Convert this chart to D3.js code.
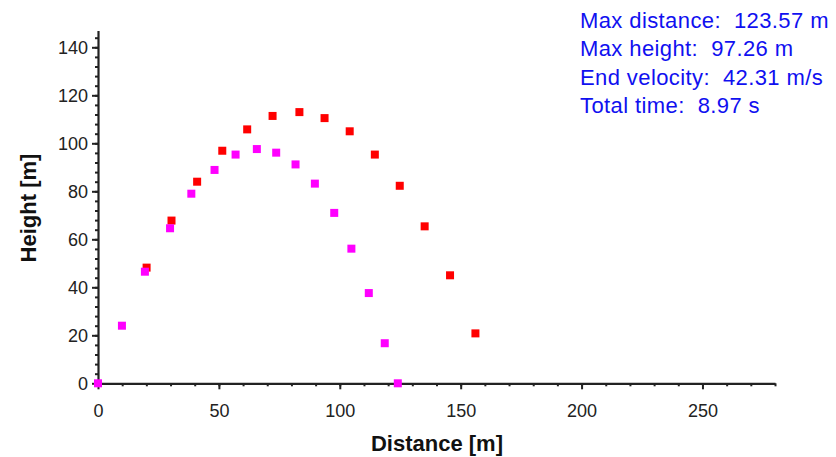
<!DOCTYPE html>
<html>
<head>
<meta charset="utf-8">
<script src="https://cdn.jsdelivr.net/npm/d3@7"></script>
<style>
  body { margin: 0; background: #fff; }
  svg { display: block; }
  .tick text { font-family: "Liberation Sans", Arial, sans-serif; font-size: 18px; fill: #222; }
</style>
</head>
<body>
<div id="chart"></div>
<script>
// first trajectory (red) and second (magenta), distance / height in metres
let redDistance = [20.1, 30.4, 41.0, 51.4, 61.7, 72.2, 83.3, 93.7, 104.1, 114.5, 124.8, 135.1, 145.6, 156.1];
let redHeight   = [48.2, 67.8, 84.0, 96.9, 105.8, 111.4, 113.0, 110.5, 105.0, 95.3, 82.3, 65.4, 45.0, 20.8];
let pinkDistance = [0, 9.9, 19.4, 29.8, 38.6, 48.2, 56.9, 65.7, 73.7, 81.7, 89.7, 97.7, 104.8, 112.0, 118.6, 124.0];
let pinkHeight   = [0, 24.0, 46.5, 64.6, 79.0, 88.9, 95.3, 97.6, 96.1, 91.2, 83.2, 71.0, 56.1, 37.6, 16.7, 0];

let xTicks = [0, 50, 100, 150, 200, 250];
let yTicks = [0, 20, 40, 60, 80, 100, 120, 140];

let infoLines = [
  "Max distance:\u00a0 123.57 m",
  "Max height:\u00a0 97.26 m",
  "End velocity:\u00a0 42.31 m/s",
  "Total time:\u00a0 8.97 s"
];

let width = 836, height = 457;
let margin = {top: 30.5, right: 61, bottom: 73.7, left: 98};

let x = d3.scaleLinear()
    .domain([0, 280])
    .range([margin.left, width - margin.right]);

let y = d3.scaleLinear()
    .domain([0, 147])
    .range([height - margin.bottom, margin.top]);

let svg = d3.select("#chart").append("svg")
    .attr("width", width)
    .attr("height", height);

// minor ticks
svg.append("g")
    .attr("transform", "translate(0," + y(0) + ")")
    .call(d3.axisBottom(x).tickValues(d3.range(0, 281, 10)).tickSize(3).tickSizeOuter(0).tickFormat(""))
    .call(g => g.select(".domain").remove())
    .call(g => g.selectAll("line").attr("stroke", "#222").attr("stroke-width", 2));

svg.append("g")
    .attr("transform", "translate(" + x(0) + ",0)")
    .call(d3.axisLeft(y).tickValues(d3.range(0, 147, 4)).tickSize(3).tickSizeOuter(0).tickFormat(""))
    .call(g => g.select(".domain").remove())
    .call(g => g.selectAll("line").attr("stroke", "#222").attr("stroke-width", 2));

// major axes
svg.append("g")
    .attr("transform", "translate(0," + y(0) + ")")
    .call(d3.axisBottom(x).tickValues(xTicks).tickSize(6).tickSizeOuter(0).tickPadding(15))
    .call(g => g.select(".domain").attr("stroke", "#222").attr("stroke-width", 2.2))
    .call(g => g.selectAll("line").attr("stroke", "#222").attr("stroke-width", 2));

svg.append("g")
    .attr("transform", "translate(" + x(0) + ",0)")
    .call(d3.axisLeft(y).tickValues(yTicks).tickSize(6).tickSizeOuter(0).tickPadding(4))
    .call(g => g.select(".domain").attr("stroke", "#222").attr("stroke-width", 2.2))
    .call(g => g.selectAll("line").attr("stroke", "#222").attr("stroke-width", 2));

// axis titles
svg.append("text")
    .attr("x", 437)
    .attr("y", 451)
    .attr("text-anchor", "middle")
    .style("font-family", "Liberation Sans, Arial, sans-serif")
    .style("font-weight", "bold")
    .style("font-size", "22px")
    .style("fill", "#111")
    .text("Distance [m]");

svg.append("text")
    .attr("transform", "translate(36,208) rotate(-90)")
    .attr("text-anchor", "middle")
    .style("font-family", "Liberation Sans, Arial, sans-serif")
    .style("font-weight", "bold")
    .style("font-size", "22px")
    .style("fill", "#111")
    .text("Height [m]");

// markers
let size = 8;
let redPts = redDistance.map((d, i) => ({x: d, y: redHeight[i]}));
let pinkPts = pinkDistance.map((d, i) => ({x: d, y: pinkHeight[i]}));

svg.selectAll(".red")
    .data(redPts)
  .enter().append("rect")
    .attr("class", "red")
    .attr("x", d => x(d.x) - size / 2)
    .attr("y", d => y(d.y) - size / 2)
    .attr("width", size)
    .attr("height", size)
    .style("fill", "#ff0000");

svg.selectAll(".pink")
    .data(pinkPts)
  .enter().append("rect")
    .attr("class", "pink")
    .attr("x", d => x(d.x) - size / 2)
    .attr("y", d => y(d.y) - size / 2)
    .attr("width", size)
    .attr("height", size)
    .style("fill", "#ff00ff");

// info text
svg.selectAll(".info")
    .data(infoLines)
  .enter().append("text")
    .attr("class", "info")
    .attr("x", 580)
    .attr("y", (d, i) => 28 + i * 28.4)
    .style("font-family", "Liberation Sans, Arial, sans-serif")
    .style("font-size", "22px")
    .style("letter-spacing", "0.4px")
    .style("fill", "#1010f0")
    .text(d => d);
</script>
</body>
</html>
